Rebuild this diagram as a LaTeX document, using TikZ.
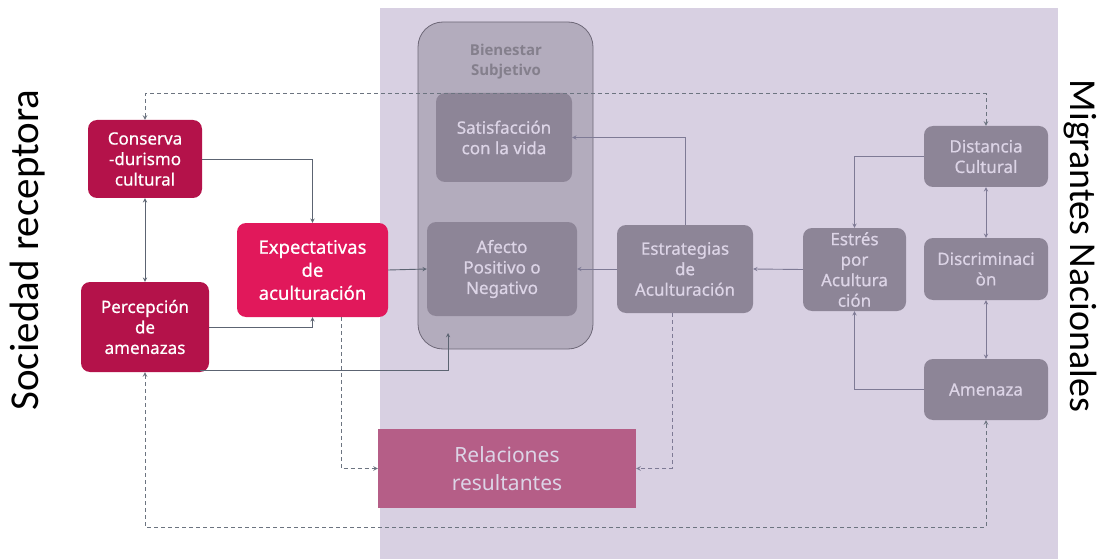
\documentclass[tikz,border=0pt]{standalone}
\usepackage{fontspec}
\setmainfont{Noto Sans}
\newfontfamily\boxfont{Noto Sans}[FakeBold=0.6]
\newfontfamily\titlefont{Open Sans}
\newfontfamily\sidefont{Carlito}
\usepackage{tikz}
\definecolor{crimson}{HTML}{B4124A}
\definecolor{expink}{HTML}{E1185B}
\definecolor{panel}{HTML}{D8D0E2}
\definecolor{bienfill}{HTML}{B3ACBD}
\definecolor{bienline}{HTML}{6E6878}
\definecolor{migbox}{HTML}{8D8597}
\definecolor{migtext}{HTML}{DCD4E6}
\definecolor{relfill}{HTML}{B55E87}
\definecolor{socline}{HTML}{5C6472}
\definecolor{migline}{HTML}{7E7A95}

\begin{document}
\begin{tikzpicture}[>=stealth, x=1pt, y=-1pt]
\tikzstyle{every node}=[align=center, inner sep=0pt];
\tikzstyle{soc}=[fill=crimson, rounded corners=9pt, text=white, font=\boxfont\fontsize{17}{20.5}\selectfont];
\tikzstyle{mig}=[fill=migbox, rounded corners=9pt, text=migtext, font=\boxfont\fontsize{17}{20.5}\selectfont];
\tikzstyle{solid link}=[draw=socline, line width=0.9pt];
\tikzstyle{soft link}=[draw=migline, line width=0.9pt];
\tikzstyle{dash link}=[draw=socline!90, line width=1pt, dash pattern=on 4pt off 3pt];
\useasboundingbox (0,0) rectangle (1101,559);
% background
    \fill[panel] (380,8) rectangle (1058,559);
    \node[rotate=90, font=\sidefont\fontsize{41}{41}\selectfont] (socrec) at (28,250) {Sociedad receptora};
    \node[rotate=-90, font=\sidefont\fontsize{38}{38}\selectfont] (mignac) at (1080,246) {Migrantes Nacionales};
% nodes
    \node[fill=bienfill, draw=bienline, line width=0.8pt, rounded corners=25pt,
          minimum width=175, minimum height=327] (bien) at (505.5,185.5) {};
    \node[text=bienline!85, font=\titlefont\bfseries\fontsize{15}{20}\selectfont] (bientit) at (506,62) {Bienestar\\Subjetivo};
    \node[soc, minimum width=114, minimum height=78] (cons) at (145,159) {Conserva\\-durismo\\cultural};
    \node[soc, minimum width=128, minimum height=90] (perc) at (145,327) {Percepción\\de\\amenazas};
    \node[soc, fill=expink, font=\boxfont\fontsize{18.5}{23}\selectfont, minimum width=151, minimum height=94] (expe) at (312.5,270) {Expectativas\\de\\aculturación};
    \node[mig, minimum width=136, minimum height=89] (sati) at (504,137.5) {Satisfacción\\con la vida};
    \node[mig, minimum width=150, minimum height=94] (afec) at (502,269) {Afecto\\Positivo o\\Negativo};
    \node[mig, minimum width=136, minimum height=88] (estr) at (685,269) {Estrategias\\de\\Aculturación};
    \node[mig, minimum width=103, minimum height=83] (stre) at (854.5,269.5) {Estrés\\por\\Acultura\\ción};
    \node[mig, minimum width=124, minimum height=61] (dist) at (986,156.5) {Distancia\\Cultural};
    \node[mig, minimum width=124, minimum height=62] (disc) at (986,269) {Discriminaci\\òn};
    \node[mig, minimum width=124, minimum height=61] (amen) at (986,389.5) {Amenaza};
    \node[fill=relfill, text=migtext, font=\fontsize{21}{28}\selectfont,
          minimum width=258, minimum height=79] (rela) at (507,468.5) {Relaciones\\resultantes};
    \coordinate (bienin) at (448,333);
% edges
    \draw[dash link,<->] (cons.north) |- (540,94) -| (dist.north);
    \draw[solid link,->] (cons.east) -| (expe.north);
    \draw[solid link,<->] (cons) -- (perc);
    \draw[solid link,->] (perc.east) -| (expe.south);
    \draw[solid link,->] ([shift={(-9,-2)}]perc.south east) -| (bienin);
    \draw[solid link,->] (expe.east) -- (afec.west);
    \draw[soft link,->] (estr.west) -- (afec.east);
    \draw[soft link,->] (estr.north) |- (sati.east);
    \draw[soft link,->] (stre.west) -- (estr.east);
    \draw[soft link,->] (dist.west) -| (stre.north);
    \draw[soft link,->] (amen.west) -| (stre.south);
    \draw[soft link,<->] (dist) -- (disc);
    \draw[soft link,<->] (disc) -- (amen);
    \draw[dash link,->] ([xshift=28.5pt]expe.south) |- (rela.west);
    \draw[dash link,draw=migline,->] ([xshift=-13pt]estr.south) |- (rela.east);
    \draw[dash link,<->] (perc.south) |- (500,527) -| (amen.south);
\end{tikzpicture}
\end{document}
